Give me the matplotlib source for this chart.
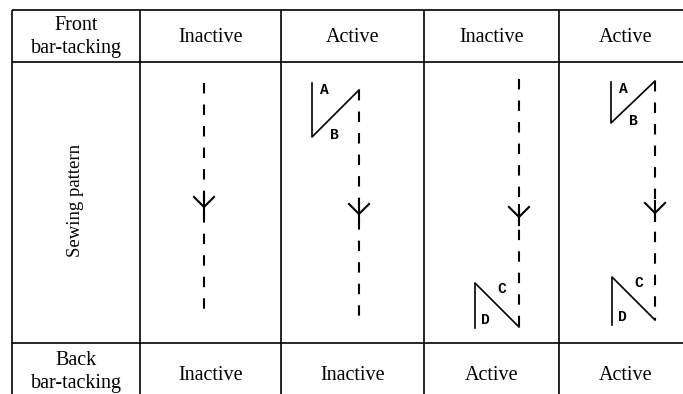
# bar-tacking sewing pattern table
import matplotlib.pyplot as plt

W, H = 683, 394

# table grid (pixel space)
col_edges = [12, 140, 281, 424, 559, 693]
row_edges = [9.5, 62, 343, 412]

front_label = ["Front\nbar-tacking"]
back_label = ["Back\nbar-tacking"]
row_label = "Sewing pattern"
front_state = ["Inactive", "Active", "Inactive", "Active"]
back_state = ["Inactive", "Inactive", "Active", "Active"]

# seam (dashed line) per pattern column
seam_x = [204, 359, 519, 655]
seam_top = [83, 90, 79, 81]
seam_bot = [318, 325, 327, 320]
arrow_tip = [207, 214, 217, 213]

# bar-tack zigzags: column index -> (x of vertical stroke, top, bottom)
front_tack = {1: (312, 83, 137), 3: (611, 82, 123)}
back_tack = {2: (475, 283, 328), 3: (612, 277, 325)}

plt.rcParams["font.family"] = ["Liberation Serif", "DejaVu Serif"]
plt.rcParams["lines.scale_dashes"] = False

fig = plt.figure(figsize=(W / 100, H / 100), dpi=100)
ax = fig.add_axes([0, 0, 1, 1])
ax.set_xlim(0, W)
ax.set_ylim(H, 0)
ax.axis("off")

GRID = dict(color="black", lw=1.2, solid_capstyle="butt")
for y in row_edges:
    ax.plot([col_edges[0], col_edges[-1]], [y, y], **GRID)
for x in col_edges:
    ax.plot([x, x], [row_edges[0], row_edges[-1]], **GRID)

cx = [(a + b) / 2 for a, b in zip(col_edges[:-1], col_edges[1:])]
FS = 14.5

ax.text(cx[0], 37, front_label[0], ha="center", va="center", fontsize=FS, linespacing=1.25)
ax.text(cx[0], 372, back_label[0], ha="center", va="center", fontsize=FS, linespacing=1.25)
ax.text(cx[0], 200, row_label, ha="center", va="center", fontsize=13.5, rotation=90)
for i, s in enumerate(front_state):
    ax.text(cx[i + 1], 37, s, ha="center", va="center", fontsize=FS)
for i, s in enumerate(back_state):
    ax.text(cx[i + 1], 375, s, ha="center", va="center", fontsize=FS)

# seams + direction arrows
for i in range(4):
    x = seam_x[i]
    ax.plot([x, x], [seam_top[i], seam_bot[i]], color="black", lw=1.5,
            dashes=(7.5, 8.0), solid_capstyle="butt")
    t = arrow_tip[i]
    ax.plot([x - 10, x, x + 10], [t - 10, t, t - 10], color="black", lw=1.5)
    ax.plot([x, x], [t - 12, t + 8], color="black", lw=1.5)

LBL = dict(fontsize=10.5, family="Liberation Mono", fontweight="bold", ha="center", va="center")

for i, (vx, top, bot) in front_tack.items():
    sx = seam_x[i]
    ax.plot([vx, vx, sx], [top, bot, seam_top[i]], color="black", lw=1.2)
    ax.text(vx + 12, top + 7, "A", **LBL)
    ax.text(vx + 22, bot - 2, "B", **LBL)

for i, (vx, top, bot) in back_tack.items():
    sx = seam_x[i]
    ax.plot([vx, vx, sx], [bot, top, seam_bot[i]], color="black", lw=1.2)
    ax.text(vx + 27, top + 6, "C", **LBL)
    ax.text(vx + 10, bot - 8, "D", **LBL)

plt.savefig("out.png", dpi=100)
plt.close(fig)
